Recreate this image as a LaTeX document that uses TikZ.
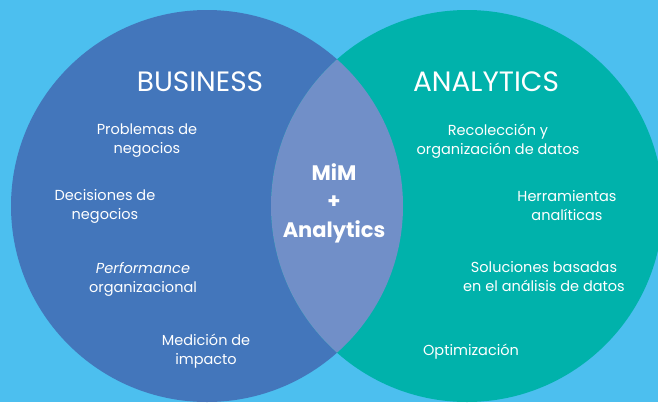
\documentclass[tikz,border=0pt]{standalone}
\usepackage{fontspec}
\setmainfont{Poppins}
\definecolor{skyback}{RGB}{76,191,239}
\definecolor{bizblue}{RGB}{67,118,187}
\definecolor{anateal}{RGB}{0,178,171}
\definecolor{mixblue}{RGB}{113,143,200}
\tikzset{
    titel/.style={text=white, font=\fontsize{28}{32}\selectfont},
    punkt/.style={text=white, align=center, font=\fontsize{14.5}{19}\selectfont},
    mitte/.style={text=white, align=center, font=\fontsize{21}{28.5}\selectfont\bfseries}
}
\begin{document}
\begin{tikzpicture}[x=1pt, y=-1pt]
    % Hintergrund
    \fill[skyback] (0,0) rectangle (658,402);
    \useasboundingbox (0,0) rectangle (658,402);
    % Kreise
    \fill[bizblue] (207,206) circle[radius=196pt];
    \fill[anateal] (467,206) circle[radius=196pt];
    \begin{scope}
        \clip (207,206) circle[radius=196pt];
        \fill[mixblue] (467,206) circle[radius=196pt];
    \end{scope}
    % Business
    \node[titel] (business) at (200,82) {BUSINESS};
    \node[punkt] (problemas) at (147,141) {Problemas de\\negocios};
    \node[punkt] (decisiones) at (105,206) {Decisiones de\\negocios};
    \node[punkt] (performance) at (143,279) {\textit{Performance}\\organizacional};
    \node[punkt] (medicion) at (206,351) {Medición de\\impacto};
    % Schnittmenge
    \node[mitte] (mim) at (334,203) {MiM\\+\\Analytics};
    % Analytics
    \node[titel] (analytics) at (486,82) {ANALYTICS};
    \node[punkt] (recoleccion) at (498,141) {Recolección y\\organización de datos};
    \node[punkt] (herramientas) at (567,206) {Herramientas\\analíticas};
    \node[punkt] (soluciones) at (544,277) {Soluciones basadas\\en el análisis de datos};
    \node[punkt] (optimizacion) at (471,352) {Optimización};
\end{tikzpicture}
\end{document}
